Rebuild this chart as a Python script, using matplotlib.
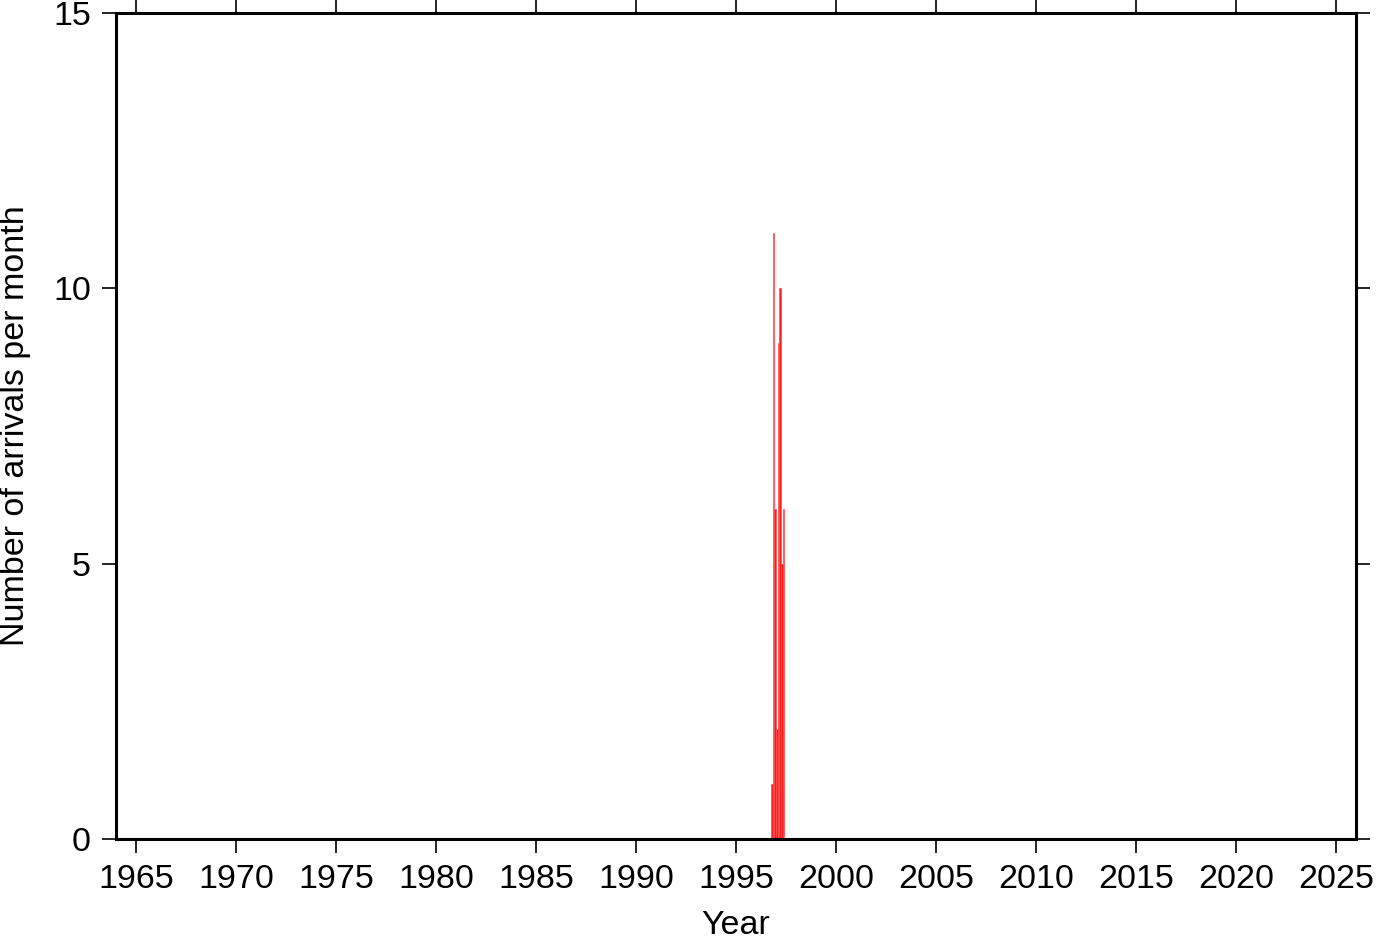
import matplotlib
matplotlib.use("Agg")
import matplotlib.pyplot as plt

# monthly arrival counts (month start as decimal year)
months = [1996 + 9/12, 1996 + 10/12, 1996 + 11/12, 1997 + 0/12,
          1997 + 1/12, 1997 + 2/12, 1997 + 3/12, 1997 + 4/12]
counts = [1, 11, 6, 2, 9, 10, 5, 6]

xticks = list(range(1965, 2026, 5))
yticks = [0, 5, 10, 15]

plt.rcParams['font.family'] = ['Liberation Sans', 'DejaVu Sans']

fig = plt.figure(figsize=(13.82, 9.42), dpi=100)
ax = fig.add_axes([116/1382, 103/942, 1240/1382, 826/942])

ax.bar(months, counts, width=1/12, align='edge', color='#ff1a1a',
       edgecolor='#ff5050', linewidth=0.5)

ax.set_xlim(1964, 2026)
ax.set_ylim(0, 15)
ax.set_xticks(xticks)
ax.set_yticks(yticks)
ax.tick_params(direction='out', length=10, width=1.2, labelsize=24.5,
               top=True, right=True, pad=8)
for s in ax.spines.values():
    s.set_linewidth(2.2)

ax.set_xlabel('Year', fontsize=24.5, labelpad=11)
ax.set_ylabel('Number of arrivals per month', fontsize=24.5, labelpad=16)

fig.savefig('out.png', dpi=100)
